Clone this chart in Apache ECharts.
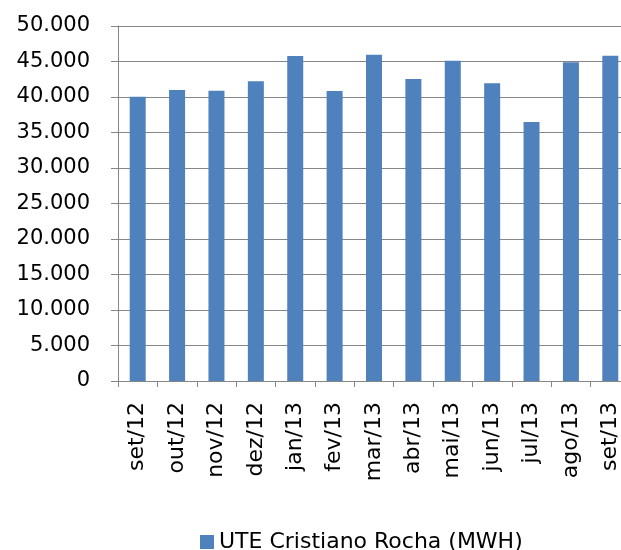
<!DOCTYPE html>
<html>
<head>
<meta charset="utf-8">
<script src="https://cdn.jsdelivr.net/npm/echarts@6/dist/echarts.min.js"></script>
<style>
  html, body { margin: 0; padding: 0; background: #fff; }
  #main { width: 621px; height: 550px; }
</style>
</head>
<body>
<div id="main"></div>
<script>
// dados mensais
var meses = ["set/12", "out/12", "nov/12", "dez/12", "jan/13", "fev/13", "mar/13",
  "abr/13", "mai/13", "jun/13", "jul/13", "ago/13", "set/13"];
var geracao = [40050, 41000, 40890, 42210, 45780, 40850, 45960,
  42540, 45120, 41930, 36480, 44880, 45820];
var nomeSerie = "UTE Cristiano Rocha (MWH)";

var myChart = echarts.init(document.getElementById("main"));

function milhar(v) {
  return String(v).replace(/\B(?=(\d{3})+(?!\d))/g, ".");
}

var option = {
  animation: false,
  backgroundColor: "#fff",
  textStyle: { fontFamily: "DejaVu Sans" },
  grid: { left: 118, top: 26, width: 512, bottom: 169, outerBoundsMode: "none", containLabel: false },
  legend: {
    left: 195,
    top: 526,
    itemWidth: 14,
    itemHeight: 14,
    icon: "rect",
    textStyle: { fontSize: 22, color: "#000", fontFamily: "DejaVu Sans" },
    data: [nomeSerie]
  },
  xAxis: {
    type: "category",
    data: meses,
    axisLine: { lineStyle: { color: "#868686", width: 1 } },
    axisTick: { show: true, length: 6, lineStyle: { color: "#868686" } },
    axisLabel: {
      rotate: 90,
      margin: 21,
      fontSize: 22,
      color: "#000",
      interval: 0
    }
  },
  yAxis: {
    type: "value",
    min: 0,
    max: 50000,
    interval: 5000,
    axisLine: { show: true, lineStyle: { color: "#868686", width: 1 } },
    axisTick: { show: true, length: 7, lineStyle: { color: "#868686" } },
    axisLabel: {
      margin: 28,
      fontSize: 21,
      color: "#000",
      formatter: function (v) { return milhar(v); }
    },
    splitLine: { show: true, lineStyle: { color: "#868686", width: 1 } }
  },
  series: [
    {
      name: nomeSerie,
      type: "bar",
      data: geracao,
      barWidth: 16,
      itemStyle: { color: "#4F81BD" }
    }
  ]
};

option && myChart.setOption(option);
</script>
</body>
</html>
